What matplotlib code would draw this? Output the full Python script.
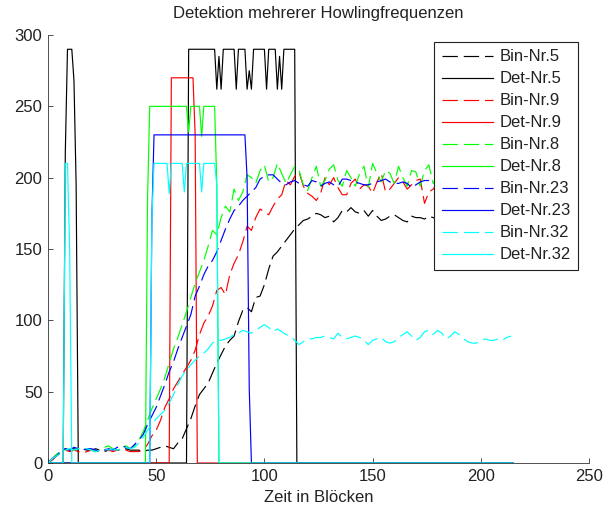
import matplotlib
matplotlib.use("Agg")
import matplotlib.pyplot as plt
import numpy as np

plt.rcParams["font.family"] = ["Liberation Sans", "DejaVu Sans"]

# Bin curves, sampled every 2 blocks (x = 0, 2, ..., 214)
bin_x = np.arange(0, 216, 2)

bin5 = [0, 3, 6, 8, 10, 9, 10, 9, 10, 9,
        9, 10, 9, 8, 9, 10, 9, 9, 10, 9,
        9, 9, 8, 9, 9, 10, 11, 12, 11, 10,
        14, 17, 24, 31, 40, 48, 52, 56, 63, 70,
        76, 82, 86, 89, 99, 107, 109, 106, 116, 117,
        125, 136, 145, 148, 152, 156, 160, 164, 167, 170,
        171, 173, 175, 174, 172, 173, 169, 172, 177, 176,
        179, 176, 175, 177, 173, 177, 173, 170, 171, 173,
        174, 172, 170, 169, 173, 172, 172, 171, 173, 172,
        171, 173, 174, 172, 170, 172, 174, 173, 171, 172,
        174, 172, 171, 173, 172, 170, 172, 173]

bin9 = [0, 2, 5, 7, 9, 8, 9, 8, 7, 8,
        9, 8, 9, 10, 9, 8, 9, 10, 9, 8,
        8, 8, 9, 13, 19, 23, 30, 39, 45, 52,
        57, 62, 67, 72, 79, 90, 98, 103, 110, 121,
        123, 118, 132, 140, 146, 155, 166, 163, 172, 178,
        176, 174, 180, 185, 188, 198, 195, 201, 204, 194,
        189, 187, 184, 189, 200, 195, 200, 193, 188, 188,
        196, 199, 192, 195, 194, 189, 197, 203, 190, 192,
        196, 200, 197, 192, 195, 198, 199, 182, 190, 192,
        196, 199, 193, 188, 195, 200, 197, 190, 186, 194,
        199, 196, 191, 194, 198, 195, 189, 193]

bin8 = [0, 3, 6, 8, 9, 10, 9, 10, 9, 10,
        9, 8, 9, 11, 12, 10, 9, 11, 12, 10,
        12, 16, 22, 30, 38, 45, 52, 60, 70, 80,
        88, 97, 106, 116, 126, 134, 142, 152, 163, 160,
        172, 180, 176, 192, 184, 190, 202, 200, 196, 205,
        209, 197, 200, 210, 203, 196, 202, 208, 205, 195,
        191, 200, 208, 194, 198, 206, 209, 198, 194, 205,
        200, 194, 203, 208, 193, 210, 203, 197, 205, 203,
        196, 208, 200, 194, 205, 204, 194, 205, 209, 196,
        199, 207, 203, 194, 198, 208, 205, 195, 192, 201,
        209, 204, 195, 199, 207, 202, 194, 203]

bin23 = [0, 3, 5, 8, 10, 9, 11, 10, 9, 10,
         10, 9, 8, 9, 10, 9, 11, 12, 11, 10,
         13, 16, 20, 27, 33, 39, 47, 55, 64, 71,
         80, 88, 96, 104, 117, 124, 132, 138, 142, 148,
         156, 164, 171, 177, 180, 184, 187, 190, 193, 199,
         201, 202, 202, 199, 196, 195, 197, 198, 196, 195,
         194, 198, 197, 194, 196, 197, 195, 194, 199, 199,
         198, 197, 196, 195, 195, 196, 197, 198, 199, 197,
         196, 196, 197, 196, 193, 195, 197, 198, 198, 197,
         196, 195, 197, 198, 196, 195, 197, 196, 194, 196,
         198, 197, 195, 196, 197, 196, 195, 197]

bin32 = [0, 3, 5, 7, 9, 10, 9, 10, 11, 10,
         9, 8, 9, 10, 9, 10, 9, 10, 11, 10,
         11, 14, 18, 23, 27, 31, 34, 37, 42, 48,
         55, 61, 65, 69, 72, 75, 77, 80, 84, 86,
         86, 87, 88, 90, 91, 93, 92, 91, 93, 95,
         97, 95, 92, 94, 92, 90, 89, 86, 83, 85,
         87, 87, 88, 88, 89, 88, 87, 91, 88, 87,
         88, 89, 88, 86, 83, 86, 87, 88, 85, 84,
         85, 88, 90, 92, 89, 86, 88, 92, 93, 90,
         93, 91, 87, 89, 92, 90, 87, 85, 84, 84,
         86, 87, 86, 86, 87, 86, 88, 89]

# Detection step signals (change points)
det5_x = [0, 7, 8, 9, 11, 12, 13, 14, 64, 65, 77, 78, 79, 80, 81, 86, 87, 88,
          91, 92, 93, 94, 95, 100, 101, 102, 105, 106, 107, 108, 109, 114, 115, 215]
det5_y = [0, 0, 218, 290, 290, 268, 195, 0, 0, 290, 290, 262, 285, 262, 290, 290, 262, 290,
          290, 262, 275, 262, 290, 290, 262, 290, 290, 262, 285, 262, 290, 290, 0, 0]

det9_x = [0, 56, 57, 67, 68, 69, 215]
det9_y = [0, 0, 270, 270, 230, 0, 0]

det8_x = [0, 45, 46, 47, 64, 65, 66, 70, 71, 72, 77, 78, 79, 215]
det8_y = [0, 0, 185, 250, 250, 232, 250, 250, 229, 250, 250, 195, 0, 0]

det23_x = [0, 47, 48, 49, 91, 92, 93, 94, 215]
det23_y = [0, 0, 172, 230, 230, 200, 52, 0, 0]

det32_x = [0, 7, 8, 9, 10, 11, 47, 48, 49, 55, 56, 57, 62, 63, 64, 70, 71, 72, 77, 78, 79, 215]
det32_y = [0, 0, 210, 210, 150, 0, 0, 172, 210, 210, 189, 210, 210, 190, 210, 210, 190, 210, 210, 195, 0, 0]

series = [
    ("Bin-Nr.5", bin_x, bin5, "#000000", True),
    ("Det-Nr.5", det5_x, det5_y, "#000000", False),
    ("Bin-Nr.9", bin_x, bin9, "#ff0000", True),
    ("Det-Nr.9", det9_x, det9_y, "#ff0000", False),
    ("Bin-Nr.8", bin_x, bin8, "#00ff00", True),
    ("Det-Nr.8", det8_x, det8_y, "#00ff00", False),
    ("Bin-Nr.23", bin_x, bin23, "#0000ff", True),
    ("Det-Nr.23", det23_x, det23_y, "#0000ff", False),
    ("Bin-Nr.32", bin_x, bin32, "#00ffff", True),
    ("Det-Nr.32", det32_x, det32_y, "#00ffff", False),
]

fig = plt.figure(figsize=(6.05, 5.09), dpi=100)
ax = fig.add_axes([48 / 605, 46 / 509, 541 / 605, 428 / 509])

for label, xs, ys, color, dashed in series:
    line, = ax.plot(xs, ys, color=color, lw=0.85, label=label)
    if dashed:
        line.set_dashes((13, 5))

ax.set_xlim(0, 250)
ax.set_ylim(0, 300)
ax.set_xticks(np.arange(0, 251, 50))
ax.set_yticks(np.arange(0, 301, 50))
ax.spines["top"].set_visible(False)
ax.spines["right"].set_visible(False)
for s in ("left", "bottom"):
    ax.spines[s].set_linewidth(0.6)
    ax.spines[s].set_color("#333333")
ax.tick_params(direction="in", length=3.6, width=0.6, labelsize=12, pad=4,
               colors="#333333", labelcolor="#222222")

ax.set_title("Detektion mehrerer Howlingfrequenzen", fontsize=12, pad=12,
             color="#222222")
ax.set_xlabel("Zeit in Blöcken", fontsize=12, labelpad=5, color="#222222")

leg = ax.legend(loc="upper right", bbox_to_anchor=(0.98, 0.984), fontsize=12,
                frameon=True, fancybox=False, framealpha=1, edgecolor="#222222",
                handlelength=3.1, handletextpad=0.36, labelspacing=0.42,
                borderpad=0.45, borderaxespad=0)
leg.get_frame().set_linewidth(0.8)
for t in leg.get_texts():
    t.set_color("#222222")

fig.savefig("out.png", dpi=100)
